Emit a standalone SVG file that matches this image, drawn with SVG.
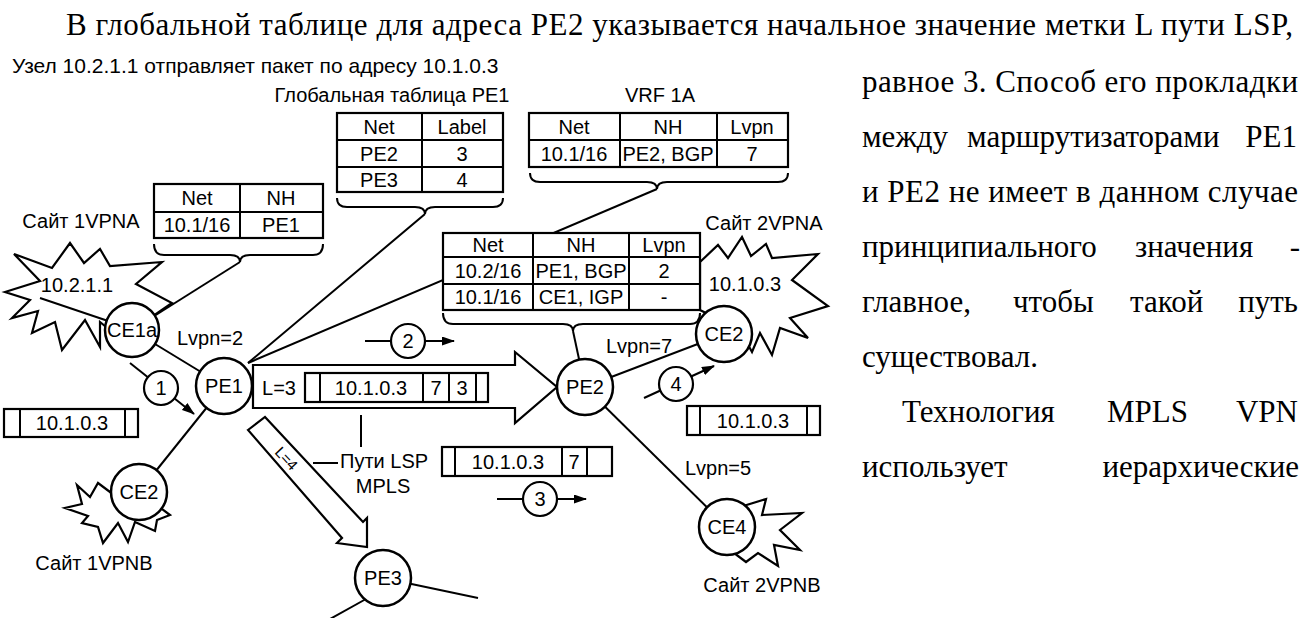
<svg xmlns="http://www.w3.org/2000/svg" width="1304" height="618" viewBox="0 0 1304 618">
<defs>
<style>
.t{font-family:"Liberation Sans",Arial,sans-serif;font-size:20px;fill:#000}
.c{text-anchor:middle}
.e{text-anchor:end}
.p{font-family:"Liberation Serif","Times New Roman",serif;font-size:31px;fill:#000}
.ln{stroke:#000;stroke-width:2;fill:none}
.box{fill:#fff;stroke:#000;stroke-width:2.2}
.burst{fill:#fff;stroke:#000;stroke-width:2.2;stroke-linejoin:miter}
.nd{fill:#fff;stroke:#000;stroke-width:2.5}
.num{fill:#fff;stroke:#000;stroke-width:2.2}
</style>
<marker id="ah" markerUnits="userSpaceOnUse" markerWidth="13" markerHeight="9" refX="12" refY="4.5" orient="auto">
<path d="M0,0 L13,4.5 L0,9 z" fill="#000"/>
</marker>
</defs>
<rect width="1304" height="618" fill="#fff"/>

<g id="paragraph">
<text class="p" x="66" y="35" textLength="1227" lengthAdjust="spacing">В глобальной таблице для адреса PE2 указывается начальное значение метки L пути LSP,</text>
<text class="p" x="862" y="92" textLength="436" lengthAdjust="spacing">равное 3. Способ его прокладки</text>
<text class="p" y="147"><tspan x="862">между</tspan><tspan x="967">маршрутизаторами</tspan></text>
<text class="p e" x="1297" y="147">PE1</text>
<text class="p" x="862" y="202" textLength="436" lengthAdjust="spacing">и PE2 не имеет в данном случае</text>
<text class="p" y="257"><tspan x="862">принципиального</tspan><tspan x="1135">значения</tspan></text>
<text class="p e" x="1300" y="257">-</text>
<text class="p" y="312"><tspan x="862">главное,</tspan><tspan x="1013">чтобы</tspan><tspan x="1130">такой</tspan></text>
<text class="p e" x="1298" y="312">путь</text>
<text class="p" x="862" y="367">существовал.</text>
<text class="p" y="422"><tspan x="902">Технология</tspan><tspan x="1107">MPLS</tspan></text>
<text class="p e" x="1298" y="422">VPN</text>
<text class="p" x="862" y="477">использует</text>
<text class="p e" x="1299" y="477">иерархические</text>
</g>

<g id="titles">
<text class="t" x="12" y="73" style="font-size:21px">Узел 10.2.1.1 отправляет пакет по адресу 10.1.0.3</text>
<text class="t c" x="392" y="102">Глобальная таблица PE1</text>
<text class="t c" x="660" y="102">VRF 1A</text>
<text class="t c" x="81" y="228">Сайт 1VPNA</text>
<text class="t c" x="764" y="230">Сайт 2VPNA</text>
<text class="t c" x="94" y="570">Сайт 1VPNB</text>
<text class="t c" x="762" y="592">Сайт 2VPNB</text>
</g>

<g id="sites">
<polygon id="site-1vpna" class="burst" points="5,292 40,281 14,254 52,268 70,243 84,263 100,249 110,266 162,262 136,284 172,303 150,318 128,345 100,322 100,347 85,320 62,350 55,322 32,333 38,311 12,318 30,300"/>
<polygon id="site-1vpnb" class="burst" points="82,504 77,485 90,497 98,483 110,492 125,480 150,500 170,515 157,520 155,531 135,522 128,542 118,523 103,543 98,527 82,523 88,516 65,508"/>
<polygon id="site-2vpna" class="burst" points="700,262 718,245 728,258 742,237 751,256 766,244 772,258 818,254 792,280 828,306 790,318 808,338 780,328 772,355 760,333 752,352 740,330 700,310"/>
<polygon id="site-2vpnb" class="burst" points="740,507 766,499 762,515 802,513 780,530 800,550 774,545 778,566 758,553 746,562 730,550"/>
<text class="t c" x="77" y="292">10.2.1.1</text>
<text class="t c" x="745" y="291">10.1.0.3</text>
</g>

<g id="connectors">
<line class="ln" x1="40" y1="298" x2="120" y2="325"/>
<line class="ln" x1="132" y1="330" x2="240" y2="262"/>
<line class="ln" x1="132" y1="330" x2="224" y2="386"/>
<line class="ln" x1="248" y1="363" x2="425" y2="214"/>
<line class="ln" x1="248" y1="363" x2="657" y2="189"/>
<line class="ln" x1="224" y1="386" x2="139" y2="492"/>
<line class="ln" x1="585" y1="387" x2="573" y2="331"/>
<line class="ln" x1="585" y1="387" x2="724" y2="334"/>
<line class="ln" x1="585" y1="387" x2="727" y2="527"/>
<line class="ln" x1="383" y1="578" x2="478" y2="598"/>
<line class="ln" x1="366" y1="599" x2="330" y2="619"/>
<line class="ln" x1="361" y1="415" x2="361" y2="447"/>
<line class="ln" x1="313" y1="463" x2="338" y2="463"/>
<line class="ln" x1="130" y1="363" x2="194" y2="414" marker-end="url(#ah)"/>
<line class="ln" x1="365" y1="341" x2="454" y2="341" marker-end="url(#ah)"/>
<line class="ln" x1="497" y1="499" x2="586" y2="499" marker-end="url(#ah)"/>
<line class="ln" x1="644" y1="398" x2="714" y2="366" marker-end="url(#ah)"/>
</g>

<g id="lsp-arrows">
<polygon id="lsp-pe2" class="box" points="253,365 515,365 515,352 557,387 515,423 515,408 253,408"/>
<polygon id="lsp-pe3" class="box" points="248,430 265,417 363,522 367,518 367,547 337,543 342,538"/>
<text class="t" x="287" y="464" style="font-size:15px" text-anchor="middle" transform="rotate(47 287 458)">L=4</text>
<text class="t c" x="279" y="395">L=3</text>
</g>

<g id="packets">
<g id="pkt-pe1">
<rect class="box" x="305" y="373" width="183" height="29"/>
<line class="ln" x1="320" y1="373" x2="320" y2="402"/>
<line class="ln" x1="423" y1="373" x2="423" y2="402"/>
<line class="ln" x1="449" y1="373" x2="449" y2="402"/>
<line class="ln" x1="476" y1="373" x2="476" y2="402"/>
<text class="t c" x="371" y="395">10.1.0.3</text>
<text class="t c" x="436" y="395">7</text>
<text class="t c" x="462" y="395">3</text>
</g>
<g id="pkt-left">
<rect class="box" x="4" y="409" width="134" height="28"/>
<line class="ln" x1="20" y1="409" x2="20" y2="437"/>
<line class="ln" x1="125" y1="409" x2="125" y2="437"/>
<text class="t c" x="72" y="430">10.1.0.3</text>
</g>
<g id="pkt-right">
<rect class="box" x="687" y="406" width="133" height="29"/>
<line class="ln" x1="700" y1="406" x2="700" y2="435"/>
<line class="ln" x1="807" y1="406" x2="807" y2="435"/>
<text class="t c" x="753" y="428">10.1.0.3</text>
</g>
<g id="pkt-lower">
<rect class="box" x="442" y="447" width="170" height="29"/>
<line class="ln" x1="455" y1="447" x2="455" y2="476"/>
<line class="ln" x1="562" y1="447" x2="562" y2="476"/>
<line class="ln" x1="587" y1="447" x2="587" y2="476"/>
<text class="t c" x="508" y="469">10.1.0.3</text>
<text class="t c" x="574" y="469">7</text>
</g>
</g>

<g id="tables">
<g id="table-ce1a">
<rect class="box" x="154" y="184" width="169" height="54"/>
<line class="ln" x1="154" y1="212" x2="323" y2="212"/>
<line class="ln" x1="240" y1="184" x2="240" y2="238"/>
<text class="t c" x="197" y="205">Net</text>
<text class="t c" x="281" y="205">NH</text>
<text class="t c" x="197" y="232">10.1/16</text>
<text class="t c" x="281" y="232">PE1</text>
<path class="ln" d="M154,244 Q154,255 164,255 L230,255 Q240,255 240,262 Q240,255 250,255 L313,255 Q323,255 323,244"/>
</g>
<g id="table-global">
<rect class="box" x="337" y="113" width="166" height="79"/>
<line class="ln" x1="337" y1="140" x2="503" y2="140"/>
<line class="ln" x1="337" y1="167" x2="503" y2="167"/>
<line class="ln" x1="422" y1="113" x2="422" y2="192"/>
<text class="t c" x="379" y="134">Net</text>
<text class="t c" x="462" y="134">Label</text>
<text class="t c" x="379" y="161">PE2</text>
<text class="t c" x="462" y="161">3</text>
<text class="t c" x="379" y="187">PE3</text>
<text class="t c" x="462" y="187">4</text>
<path class="ln" d="M337,198 Q337,207 347,207 L415,207 Q425,207 425,214 Q425,207 435,207 L493,207 Q503,207 503,198"/>
</g>
<g id="table-vrf1a">
<rect class="box" x="529" y="113" width="259" height="54"/>
<line class="ln" x1="529" y1="140" x2="788" y2="140"/>
<line class="ln" x1="620" y1="113" x2="620" y2="167"/>
<line class="ln" x1="717" y1="113" x2="717" y2="167"/>
<text class="t c" x="574" y="134">Net</text>
<text class="t c" x="668" y="134">NH</text>
<text class="t c" x="752" y="134">Lvpn</text>
<text class="t c" x="574" y="161">10.1/16</text>
<text class="t c" x="668" y="161">PE2, BGP</text>
<text class="t c" x="752" y="161">7</text>
<path class="ln" d="M530,173 Q530,182 540,182 L647,182 Q657,182 657,189 Q657,182 667,182 L778,182 Q788,182 788,173"/>
</g>
<g id="table-pe2">
<rect class="box" x="443" y="233" width="257" height="77"/>
<line class="ln" x1="443" y1="257" x2="700" y2="257"/>
<line class="ln" x1="443" y1="284" x2="700" y2="284"/>
<line class="ln" x1="533" y1="233" x2="533" y2="310"/>
<line class="ln" x1="629" y1="233" x2="629" y2="310"/>
<text class="t c" x="488" y="252">Net</text>
<text class="t c" x="581" y="252">NH</text>
<text class="t c" x="664" y="252">Lvpn</text>
<text class="t c" x="488" y="278">10.2/16</text>
<text class="t c" x="581" y="278">PE1, BGP</text>
<text class="t c" x="664" y="278">2</text>
<text class="t c" x="488" y="304">10.1/16</text>
<text class="t c" x="581" y="304">CE1, IGP</text>
<text class="t c" x="664" y="304">-</text>
<path class="ln" d="M443,313 Q443,324 453,324 L563,324 Q573,324 573,331 Q573,324 583,324 L690,324 Q700,324 700,313"/>
</g>
</g>

<g id="node-ce1a"><circle class="nd" cx="132" cy="330" r="27"/><text class="t c" x="132" y="337">CE1a</text></g>
<g id="node-pe1"><circle class="nd" cx="224" cy="386" r="28"/><text class="t c" x="224" y="393">PE1</text></g>
<g id="node-ce2-left"><circle class="nd" cx="139" cy="492" r="28"/><text class="t c" x="139" y="499">CE2</text></g>
<g id="node-pe2"><circle class="nd" cx="585" cy="387" r="28"/><text class="t c" x="585" y="394">PE2</text></g>
<g id="node-ce2-right"><circle class="nd" cx="724" cy="334" r="28"/><text class="t c" x="724" y="341">CE2</text></g>
<g id="node-ce4"><circle class="nd" cx="727" cy="527" r="28"/><text class="t c" x="727" y="534">CE4</text></g>
<g id="node-pe3"><circle class="nd" cx="383" cy="578" r="28"/><text class="t c" x="383" y="585">PE3</text></g>

<g id="steps">
<g id="step-1"><circle class="num" cx="161" cy="388" r="17"/><text class="t c" x="161" y="395">1</text></g>
<g id="step-2"><circle class="num" cx="408" cy="341" r="17"/><text class="t c" x="408" y="348">2</text></g>
<g id="step-3"><circle class="num" cx="540" cy="499" r="17"/><text class="t c" x="540" y="506">3</text></g>
<g id="step-4"><circle class="num" cx="676" cy="384" r="17"/><text class="t c" x="676" y="391">4</text></g>
</g>

<g id="labels">
<text class="t c" x="210" y="345">Lvpn=2</text>
<text class="t c" x="639" y="353">Lvpn=7</text>
<text class="t c" x="718" y="475">Lvpn=5</text>
<text class="t" x="340" y="468">Пути LSP</text>
<text class="t c" x="383" y="493">MPLS</text>
</g>
</svg>
